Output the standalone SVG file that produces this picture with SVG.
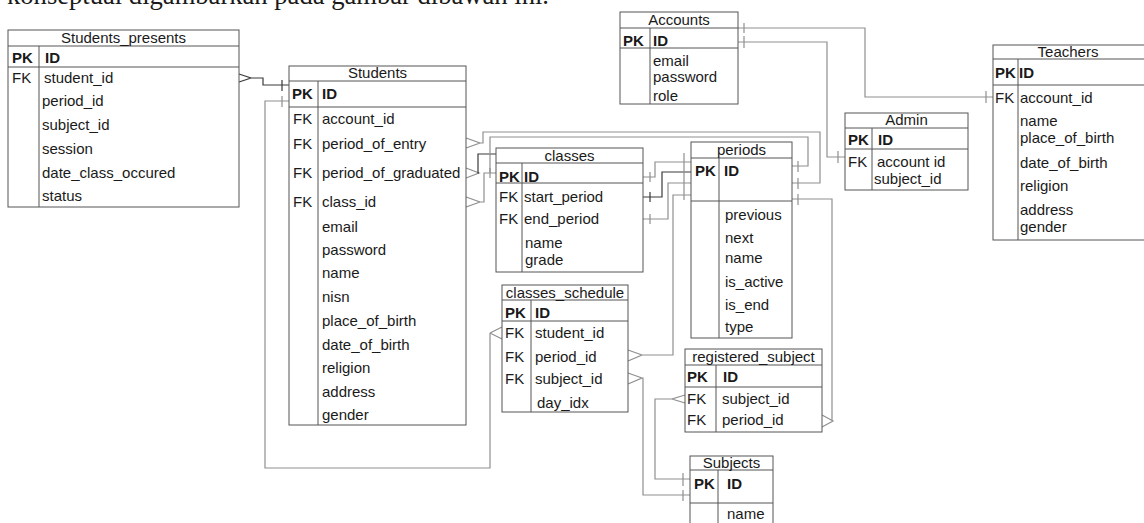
<svg xmlns="http://www.w3.org/2000/svg" width="1144" height="523" viewBox="0 0 1144 523">
<style>
text{font-family:"Liberation Sans",Arial,sans-serif;font-size:15px;fill:#1a1a1a}
.t{text-anchor:middle}
.b{font-weight:bold}
.box{fill:#fff;stroke:#555;stroke-width:1}
.ln{fill:none;stroke:#555;stroke-width:1}
.c{fill:none;stroke:#8f8f8f;stroke-width:1.2}
.d{fill:none;stroke:#3a3a3a;stroke-width:1.2}
.top{font-family:"Liberation Serif","Times New Roman",serif;font-size:27px}
</style>
<rect width="1144" height="523" fill="#fff"/>
<text class="top" x="7" y="3.5" textLength="542" lengthAdjust="spacingAndGlyphs">konseptual digambarkan pada gambar dibawah ini.</text>

<g id="connectors">
  <!-- Students_presents -> Students -->
  <path class="d" d="M239,74 L251,78 L239,82 M251,78 H263 V85 H289 M282,80 V91"/>
  <!-- Students -> classes_schedule.student_id -->
  <path class="c" d="M289,101 H265 V468 H490 V333 M490,333 L502,327 M490,333 L502,339 M282,96 V107"/>
  <!-- period_of_entry -> periods -->
  <path class="c" d="M466,138 L480,143 L466,148 M480,143 H483 V132 H820 V183 H792 M798,178 V189"/>
  <!-- period_of_graduated -->
  <path class="c" d="M466,168 L479,173 L466,178"/>
  <path class="d" d="M479,173 H478 V154 H496"/>
  <path class="c" d="M490,173 V137 H808 V166 H792 M798,161 V172"/>
  <!-- class_id -> classes -->
  <path class="c" d="M466,197 L480,202 L466,207 M480,202 H484 V173 H496 M490,168 V178"/>
  <!-- classes -> periods -->
  <path class="c" d="M643,177 H655 V162 H691 M650,172 V182"/>
  <path class="d" d="M643,197 H662 V172 H691 M650,192 V202"/>
  <path class="c" d="M643,219 H668 V183 H691 M650,214 V224"/>
  <path class="c" d="M684,153 V200"/>
  <!-- classes_schedule.period_id -> periods -->
  <path class="c" d="M628,350 L642,355 L628,361 M642,355 H673 V195 H691"/>
  <!-- Accounts -> Admin -->
  <path class="c" d="M738,42 H827 V157 H845 M744,36 V48 M838,151 V163"/>
  <!-- Accounts -> Teachers -->
  <path class="c" d="M738,28 H865 V97 H993 M744,23 V33 M986,91 V103"/>
  <!-- periods -> registered_subject.period_id -->
  <path class="c" d="M792,199 H832 V421 M822,415 L833,421 L822,427 M798,194 V205"/>
  <!-- classes_schedule.subject_id -> Subjects -->
  <path class="c" d="M628,373 L642,378 L628,384 M642,378 H643 V495 H690 M683,490 V501"/>
  <!-- registered_subject.subject_id -> Subjects -->
  <path class="c" d="M685,395 L672,399 L685,403 M672,399 H655 V479 H690 M683,473 V486"/>
</g>

<g id="Students_presents">
  <rect class="box" x="8" y="30" width="231" height="177"/>
  <path class="ln" d="M8,46 H239 M8,67 H239 M39,46 V207"/>
  <text class="t" x="123.5" y="43">Students_presents</text>
  <text class="b" x="12" y="63">PK</text><text class="b" x="45" y="63">ID</text>
  <text x="12" y="83">FK</text>
  <text x="44" y="83">student_id</text>
  <text x="42" y="106">period_id</text>
  <text x="42" y="130">subject_id</text>
  <text x="42" y="154">session</text>
  <text x="42" y="178">date_class_occured</text>
  <text x="42" y="201">status</text>
</g>

<g id="Students">
  <rect class="box" x="289" y="66" width="177" height="359"/>
  <path class="ln" d="M289,81 H466 M289,107 H466 M318,81 V425"/>
  <text class="t" x="377.5" y="78">Students</text>
  <text class="b" x="292" y="99">PK</text><text class="b" x="322" y="99">ID</text>
  <text x="293" y="124">FK</text><text x="322" y="124">account_id</text>
  <text x="293" y="149">FK</text><text x="322" y="149">period_of_entry</text>
  <text x="293" y="178">FK</text><text x="322" y="178">period_of_graduated</text>
  <text x="293" y="207">FK</text><text x="322" y="207">class_id</text>
  <text x="322" y="232">email</text>
  <text x="322" y="255">password</text>
  <text x="322" y="278">name</text>
  <text x="322" y="302">nisn</text>
  <text x="322" y="326">place_of_birth</text>
  <text x="322" y="350">date_of_birth</text>
  <text x="322" y="373">religion</text>
  <text x="322" y="397">address</text>
  <text x="322" y="420">gender</text>
</g>

<g id="classes">
  <rect class="box" x="496" y="148" width="147" height="124"/>
  <path class="ln" d="M496,163 H643 M496,183 H643 M522,163 V272"/>
  <text class="t" x="569.5" y="161">classes</text>
  <text class="b" x="499" y="182">PK</text><text class="b" x="524" y="182">ID</text>
  <text x="499" y="202">FK</text><text x="524" y="202">start_period</text>
  <text x="499" y="224">FK</text><text x="524" y="224">end_period</text>
  <text x="525" y="248">name</text>
  <text x="525" y="265">grade</text>
</g>

<g id="Accounts">
  <rect class="box" x="620" y="12" width="118" height="92"/>
  <path class="ln" d="M620,28 H738 M620,48 H738 M650,28 V104"/>
  <text class="t" x="679" y="25">Accounts</text>
  <text class="b" x="623" y="46">PK</text><text class="b" x="653" y="46">ID</text>
  <text x="653" y="66">email</text>
  <text x="653" y="82">password</text>
  <text x="653" y="101">role</text>
</g>

<g id="periods">
  <rect class="box" x="691" y="142" width="101" height="196"/>
  <path class="ln" d="M691,158 H792 M691,201 H792 M719,158 V338"/>
  <text class="t" x="741.5" y="155">periods</text>
  <text class="b" x="695" y="176">PK</text><text class="b" x="724" y="176">ID</text>
  <text x="725" y="220">previous</text>
  <text x="725" y="243">next</text>
  <text x="725" y="263">name</text>
  <text x="725" y="287">is_active</text>
  <text x="725" y="310">is_end</text>
  <text x="725" y="332">type</text>
</g>

<g id="Admin">
  <rect class="box" x="845" y="113" width="123" height="77"/>
  <path class="ln" d="M845,128 H968 M845,149 H968 M872,128 V190"/>
  <text class="t" x="906.5" y="125">Admin</text>
  <text class="b" x="848" y="145">PK</text><text class="b" x="878" y="145">ID</text>
  <text x="848" y="167">FK</text><text x="877" y="167">account id</text>
  <text x="874" y="184">subject_id</text>
</g>

<g id="Teachers">
  <rect class="box" x="993" y="45" width="160" height="195"/>
  <path class="ln" d="M993,59 H1144 M993,85 H1144 M1018,59 V240"/>
  <text class="t" x="1068" y="57">Teachers</text>
  <text class="b" x="995" y="78">PK</text><text class="b" x="1019" y="78">ID</text>
  <text x="995" y="103">FK</text><text x="1020" y="103">account_id</text>
  <text x="1020" y="126">name</text>
  <text x="1020" y="143">place_of_birth</text>
  <text x="1020" y="168">date_of_birth</text>
  <text x="1020" y="191">religion</text>
  <text x="1020" y="215">address</text>
  <text x="1020" y="232">gender</text>
</g>

<g id="classes_schedule">
  <rect class="box" x="502" y="285" width="126" height="127"/>
  <path class="ln" d="M502,300 H628 M502,321 H628 M531,300 V412"/>
  <text class="t" x="565" y="298">classes_schedule</text>
  <text class="b" x="505" y="318">PK</text><text class="b" x="535" y="318">ID</text>
  <text x="505" y="338">FK</text><text x="535" y="338">student_id</text>
  <text x="505" y="362">FK</text><text x="535" y="362">period_id</text>
  <text x="505" y="384">FK</text><text x="535" y="384">subject_id</text>
  <text x="537" y="408">day_idx</text>
</g>

<g id="registered_subject">
  <rect class="box" x="685" y="349" width="137" height="83"/>
  <path class="ln" d="M685,365 H822 M685,387 H822 M716,365 V432"/>
  <text class="t" x="753.5" y="362">registered_subject</text>
  <text class="b" x="687" y="382">PK</text><text class="b" x="723" y="382">ID</text>
  <text x="687" y="404">FK</text><text x="722" y="404">subject_id</text>
  <text x="687" y="425">FK</text><text x="722" y="425">period_id</text>
</g>

<g id="Subjects">
  <rect class="box" x="690" y="456" width="83" height="80"/>
  <path class="ln" d="M690,470 H773 M690,503 H773 M718,470 V536"/>
  <text class="t" x="731.5" y="468">Subjects</text>
  <text class="b" x="694" y="489">PK</text><text class="b" x="727" y="489">ID</text>
  <text x="727" y="519">name</text>
</g>
</svg>
